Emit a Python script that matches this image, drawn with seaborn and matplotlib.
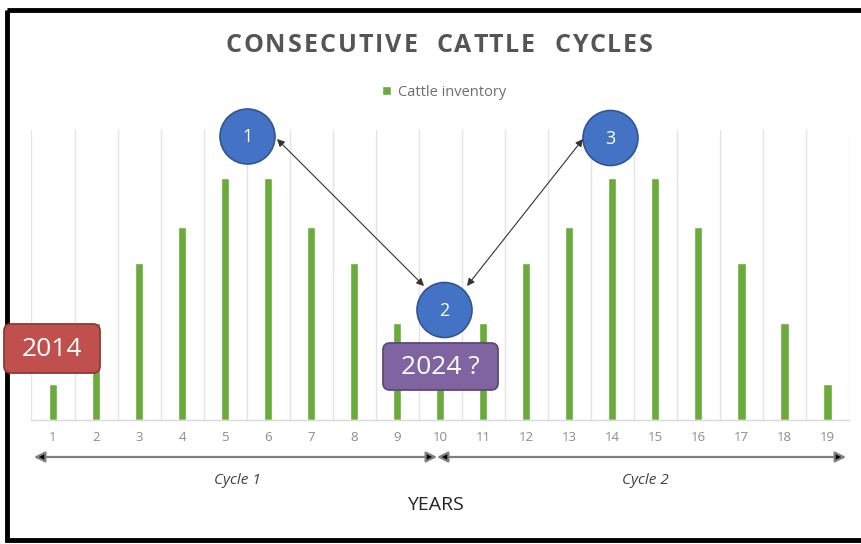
import matplotlib
matplotlib.use("Agg")
import matplotlib.pyplot as plt
import seaborn as sns
import pandas as pd
import numpy as np
from matplotlib.patches import FancyBboxPatch, Rectangle, Circle, FancyArrowPatch
from matplotlib.font_manager import FontProperties

# ---- data ----
years = [str(i) for i in range(1, 20)]
inventory = [1.5, 4, 6.5, 8, 10, 10, 8, 6.5, 4, 1.5, 4, 6.5, 8, 10, 10, 8, 6.5, 4, 1.5]
series_name = "Cattle inventory"
title = "CONSECUTIVE  CATTLE  CYCLES"
cycle_labels = ["Cycle 1", "Cycle 2"]
xlabel = "YEARS"
stage_labels = ["1", "2", "3"]
tag_labels = ["2014", "2024 ?"]

sns.set_theme(style="white")
plt.rcParams['font.family'] = ['Open Sans', 'DejaVu Sans']

W, H = 862, 544
fig = plt.figure(figsize=(W / 100, H / 100), dpi=100)
fig.patch.set_facecolor("white")

ax = fig.add_axes([31.5 / W, 1 - 420 / H, (849 - 31.5) / W, (420 - 130) / H])
df = pd.DataFrame({"Year": years, "Inventory": inventory})
sns.barplot(data=df, x="Year", y="Inventory", color="#6AAB3C", width=0.19,
            saturation=1, ax=ax, label=series_name)
ax.set_ylim(0, 12)
ax.set_xlim(-0.5, len(years) - 0.5)
ax.set_yticks([])
ax.set_xticks(np.arange(len(years) + 1) - 0.5, minor=True)
ax.grid(axis='x', which='minor', color='#E4E4E4', lw=1)
ax.grid(axis='x', which='major', visible=False)
ax.grid(axis='y', visible=False)
for s in ['left', 'right', 'top']:
    ax.spines[s].set_visible(False)
ax.spines['bottom'].set_color('#D9D9D9')
ax.spines['bottom'].set_linewidth(1)
ax.tick_params(axis='x', which='both', length=0, pad=8, labelsize=9.5, labelcolor='#8C8C8C')
ax.set_xlabel('')
ax.set_ylabel('')
ax.patch.set_alpha(0)

leg = ax.legend(loc='center', bbox_to_anchor=(444 / W, 1 - 92 / H), bbox_transform=fig.transFigure,
                frameon=False, fontsize=10.5, handlelength=0.6, handleheight=0.6,
                handletextpad=0.5, labelcolor='#6E6E6E')

# ---- overlay in pixel coordinates for annotations ----
ov = fig.add_axes([0, 0, 1, 1], zorder=10)
ov.set_xlim(0, W)
ov.set_ylim(H, 0)
ov.axis('off')
ov.patch.set_alpha(0)

# outer black frame
ov.add_patch(Rectangle((7, 10), W + 30, 530, fill=False, ec='black', lw=3.5, clip_on=False))

# letter-spaced title
renderer = fig.canvas.get_renderer()
fp = FontProperties(family=['Open Sans', 'DejaVu Sans'], size=18, weight='bold')


def text_w(s):
    w, _, _ = renderer.get_text_width_height_descent(s + "X", fp, ismath=False)
    wx, _, _ = renderer.get_text_width_height_descent("X", fp, ismath=False)
    return w - wx


title_left, title_right = 226, 653
base_w = text_w(title)
gap = (title_right - title_left - base_w) / (len(title) - 1)
for i, ch in enumerate(title):
    if ch == " ":
        continue
    x = title_left + text_w(title[:i]) + i * gap
    ov.text(x, 45, ch, ha='left', va='center', fontproperties=fp, color='#555555')

# circles
circ = [(247.5, 136.5), (444.5, 310), (610.5, 138)]
for (cx, cy), lab in zip(circ, stage_labels):
    ov.add_patch(Circle((cx, cy), 27.5, fc='#4472C4', ec='#2F5597', lw=1.2))
    ov.text(cx, cy + 1, lab, ha='center', va='center', fontsize=13, color='white')

# connecting arrows
for p0, p1 in [((277, 139), (424, 286)), ((467, 286), (583, 139))]:
    ov.add_patch(FancyArrowPatch(p0, p1, arrowstyle='<|-|>', mutation_scale=11,
                                 color='#333333', lw=0.8, shrinkA=0, shrinkB=0))

# cycle arrows below axis
for p0, p1 in [((34, 457), (437, 457)), ((437, 457), (846, 457))]:
    ov.add_patch(FancyArrowPatch(p0, p1, arrowstyle='<|-|>', mutation_scale=16,
                                 ec='#7F7F7F', fc='black', lw=1.6, shrinkA=0, shrinkB=0))

ov.text(237, 481, cycle_labels[0], ha='center', va='center', fontsize=11, style='italic', color='#404040')
ov.text(645, 481, cycle_labels[1], ha='center', va='center', fontsize=11, style='italic', color='#404040')
ov.text(435, 505, xlabel, ha='center', va='center', fontsize=14, color='#262626')

# year tags
ov.add_patch(FancyBboxPatch((4, 324), 96, 49, boxstyle='round,pad=0,rounding_size=7',
                            fc='#C0504D', ec='#8C3A38', lw=1.3))
ov.text(52, 349, tag_labels[0], ha='center', va='center', fontsize=19, color='white')
ov.add_patch(FancyBboxPatch((383, 343), 115, 47, boxstyle='round,pad=0,rounding_size=7',
                            fc='#8064A2', ec='#5B4A78', lw=1.3))
ov.text(440.5, 367, tag_labels[1], ha='center', va='center', fontsize=19, color='white')

fig.savefig("out.png", dpi=100)
